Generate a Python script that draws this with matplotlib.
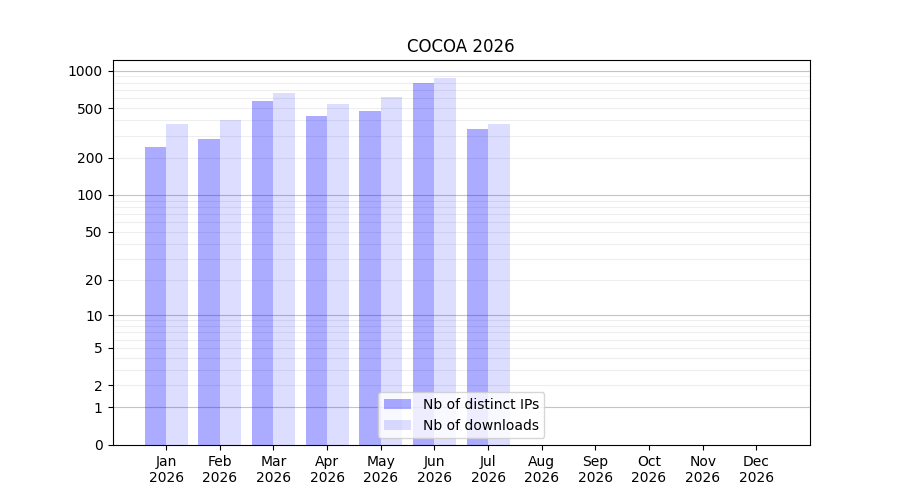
import numpy as np
import matplotlib
matplotlib.use('Agg')
import matplotlib.pyplot as plt

months = ['Jan', 'Feb', 'Mar', 'Apr', 'May', 'Jun', 'Jul', 'Aug', 'Sep', 'Oct', 'Nov', 'Dec']
year = 2026
distinct_ips = [244, 283, 570, 432, 474, 795, 340]
downloads = [372, 402, 662, 540, 614, 872, 372]

yticks = [0, 1, 2, 5, 10, 20, 50, 100, 200, 500, 1000]

fig = plt.figure(figsize=(9, 5), dpi=100)
ax = fig.add_subplot(1, 1, 1)

ax.set_yscale('function', functions=(lambda v: np.log10(1 + np.clip(v, 0, None)),
                                     lambda v: 10 ** v - 1))

x = np.arange(len(distinct_ips))
w = 0.4
ax.bar(x - w / 2, distinct_ips, width=w, color='blue', alpha=0.33, label='Nb of distinct IPs', zorder=3)
ax.bar(x + w / 2, downloads, width=w, color='blue', alpha=0.135, label='Nb of downloads', zorder=3)

# grid: light lines at 2..9 x 10^k, darker at decades
for dec in [1, 10, 100]:
    for m in range(2, 10):
        ax.axhline(m * dec, color='#eeeeee', lw=0.8, zorder=1)
for dec in [1, 10, 100, 1000]:
    ax.axhline(dec, color='#c4c4c4', lw=0.8, zorder=1)

ax.set_yticks(yticks)
ax.set_yticklabels([str(t) for t in yticks])
ax.set_ylim(0, 1215)

ax.set_xticks(np.arange(12))
ax.set_xticklabels(['%s\n%d' % (m, year) for m in months])
ax.set_xlim(-1, 12)

ax.set_title('COCOA %d' % year)
ax.legend(loc='lower center')

fig.savefig('out.png', dpi=100)
